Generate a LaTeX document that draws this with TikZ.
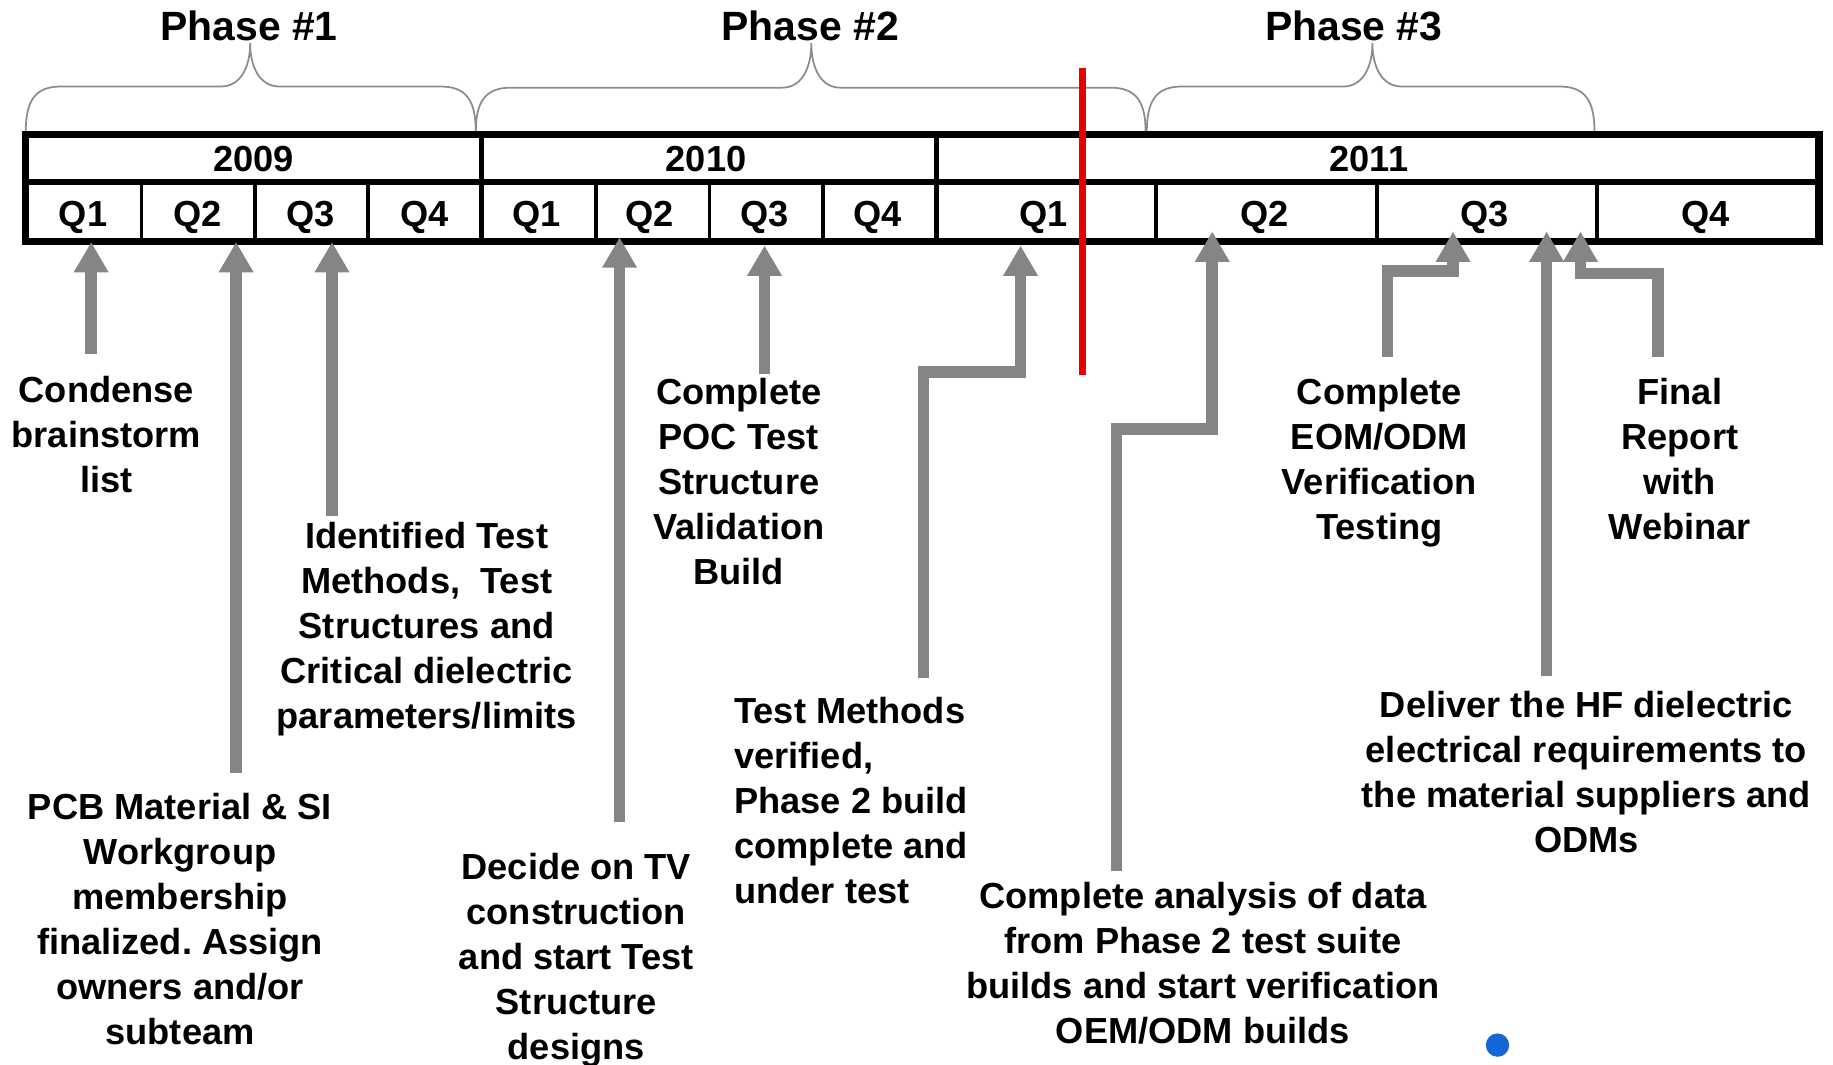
\documentclass[tikz,border=0pt]{standalone}
\usepackage{fontspec}
\setmainfont{Liberation Sans}
\frenchspacing
\usetikzlibrary{arrows.meta}
\definecolor{arrowgray}{HTML}{858585}
\definecolor{bracegray}{HTML}{8C8C8C}
\definecolor{todayred}{HTML}{E60000}
\definecolor{dotblue}{HTML}{1466D6}
\tikzset{
    phase-label/.style = {font=\bfseries\fontsize{35}{40}\selectfont, inner sep=0pt},
    cell-label/.style = {font=\bfseries\fontsize{31}{36}\selectfont, inner sep=0pt, anchor=base},
    goal-text/.style = {font=\bfseries\fontsize{31}{38.5}\selectfont, align=center, inner sep=0pt, anchor=north},
    phase-brace/.style = {draw=bracegray, line width=1.5pt},
    up-arrow/.style = {draw=arrowgray, line width=10pt, -{Triangle[width=28pt, length=26pt]}},
    bent-arrow/.style = {up-arrow, line join=miter},
}

\begin{document}
\begin{tikzpicture}[x=1pt, y=-1pt]
\useasboundingbox (0,0) rectangle (1568,911);

% phases
\node[phase-label] (phase1) at (213,22) {Phase \#1};
\node[phase-label] (phase2) at (693,22) {Phase \#2};
\node[phase-label] (phase3) at (1158,22) {Phase \#3};
\draw[phase-brace] (22,113) .. controls (22,86) and (30,74) .. (52,74) -- (189,74)
    .. controls (206,74) and (214,57) .. (214,37) .. controls (214,57) and (222,74) .. (239,74)
    -- (377,74) .. controls (399,74) and (407,86) .. (407,113);
\draw[phase-brace] (407,113) .. controls (407,87) and (415,75) .. (437,75) -- (669,75)
    .. controls (686,75) and (694,58) .. (694,37) .. controls (694,58) and (702,75) .. (719,75)
    -- (950,75) .. controls (972,75) and (980,87) .. (980,113);
\draw[phase-brace] (981,113) .. controls (981,86) and (989,74) .. (1011,74) -- (1149,74)
    .. controls (1166,74) and (1174,57) .. (1174,37) .. controls (1174,57) and (1182,74) .. (1199,74)
    -- (1334,74) .. controls (1356,74) and (1364,86) .. (1364,113);

% timeline grid
\draw[line width=6pt] (22,115) rectangle (1556,207);
\draw[line width=5pt] (22,156) -- (1556,156);
\draw[line width=4pt] (412,115) -- (412,207) (801,115) -- (801,207);
\draw[line width=3pt] (121,156) -- (121,207) (218,156) -- (218,207) (315,156) -- (315,207)
    (510,156) -- (510,207) (607,156) -- (607,207) (704,156) -- (704,207)
    (989,156) -- (989,207) (1178,156) -- (1178,207) (1366,156) -- (1366,207);

\node[cell-label] (y2009) at (217,147) {2009};
\node[cell-label] (y2010) at (604,147) {2010};
\node[cell-label] (y2011) at (1171,147) {2011};
\node[cell-label] (q1-2009) at (71,194) {Q1};
\node[cell-label] (q2-2009) at (169,194) {Q2};
\node[cell-label] (q3-2009) at (266,194) {Q3};
\node[cell-label] (q4-2009) at (363,194) {Q4};
\node[cell-label] (q1-2010) at (459,194) {Q1};
\node[cell-label] (q2-2010) at (556,194) {Q2};
\node[cell-label] (q3-2010) at (654,194) {Q3};
\node[cell-label] (q4-2010) at (751,194) {Q4};
\node[cell-label] (q1-2011) at (893,194) {Q1};
\node[cell-label] (q2-2011) at (1082,194) {Q2};
\node[cell-label] (q3-2011) at (1270,194) {Q3};
\node[cell-label] (q4-2011) at (1459,194) {Q4};

% today marker
\coordinate (today-top) at (926,58);
\coordinate (today-bottom) at (926,321);
\draw[todayred, line width=5.5pt] (today-top) -- (today-bottom);

% milestones
\node[goal-text] (condense) at (91,321.5) {Condense\\brainstorm\\list};
\node[goal-text] (workgroup) at (154,678.5) {PCB Material \& SI\\Workgroup\\membership\\finalized. Assign\\owners and/or\\subteam};
\node[goal-text] (identified) at (365,446.5) {Identified Test\\Methods, \ Test\\Structures and\\Critical dielectric\\parameters/limits};
\node[goal-text] (decide) at (493,729.5) {Decide on TV\\construction\\and start Test\\Structure\\designs};
\node[goal-text] (poc) at (632,323.5) {Complete\\POC Test\\Structure\\Validation\\Build};
\node[goal-text, anchor=north west, align=left] (verified) at (628,596.5) {Test Methods\\verified,\\Phase 2 build\\complete and\\under test};
\node[goal-text] (analysis) at (1029,754.5) {Complete analysis of data\\from Phase 2 test suite\\builds and start verification\\OEM/ODM builds};
\node[goal-text] (eom) at (1180,323.5) {Complete\\EOM/ODM\\Verification\\Testing};
\node[goal-text] (deliver) at (1357,591.5) {Deliver the HF dielectric\\electrical requirements to\\the material suppliers and\\ODMs};
\node[goal-text] (final) at (1437,323.5) {Final\\Report\\with\\Webinar};

\coordinate (condense-tail) at (78,303);     \coordinate (condense-tip) at (78,207);
\coordinate (workgroup-tail) at (202,661);   \coordinate (workgroup-tip) at (202,207);
\coordinate (identified-tail) at (284,441);  \coordinate (identified-tip) at (284,207);
\coordinate (decide-tail) at (530,703);      \coordinate (decide-tip) at (530,203);
\coordinate (poc-tail) at (654,320);         \coordinate (poc-tip) at (654,210);
\coordinate (verified-tail) at (790,580);    \coordinate (verified-bend) at (873,318);  \coordinate (verified-tip) at (873,210);
\coordinate (analysis-tail) at (955,745);    \coordinate (analysis-bend) at (1037,367); \coordinate (analysis-tip) at (1037,198);
\coordinate (eom-tail) at (1187,305);        \coordinate (eom-bend) at (1243,232);      \coordinate (eom-tip) at (1243,198);
\coordinate (deliver-tail) at (1323,578);    \coordinate (deliver-tip) at (1323,198);
\coordinate (final-tail) at (1418,305);      \coordinate (final-bend) at (1352,234);    \coordinate (final-tip) at (1352,198);

\draw[up-arrow] (condense-tail) -- (condense-tip);
\draw[up-arrow] (workgroup-tail) -- (workgroup-tip);
\draw[up-arrow] (identified-tail) -- (identified-tip);
\draw[up-arrow] (decide-tail) -- (decide-tip);
\draw[up-arrow] (poc-tail) -- (poc-tip);
\draw[bent-arrow] (verified-tail) |- (verified-bend) -- (verified-tip);
\draw[bent-arrow] (analysis-tail) |- (analysis-bend) -- (analysis-tip);
\draw[bent-arrow] (eom-tail) |- (eom-bend) -- (eom-tip);
\draw[up-arrow] (deliver-tail) -- (deliver-tip);
\draw[bent-arrow] (final-tail) |- (final-bend) -- (final-tip);

\fill[dotblue] (1281,894) circle (10);
\end{tikzpicture}
\end{document}
